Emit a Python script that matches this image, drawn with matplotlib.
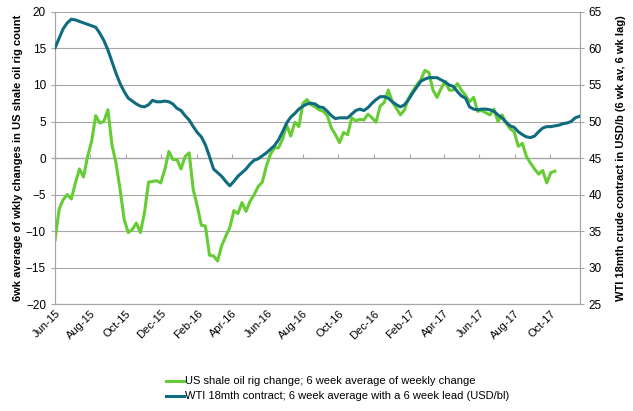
import matplotlib
matplotlib.use("Agg")
import matplotlib.pyplot as plt
import matplotlib.dates as mdates
from matplotlib.ticker import NullFormatter
import pandas as pd

plt.rcParams['font.family'] = ['Liberation Sans', 'DejaVu Sans']

GREEN = '#66CC33'
TEAL = '#0F6B7F'
GRID = '#A6A6A6'

# 6wk average of weekly change in US shale oil rig count (left axis)
rig_change = [
    -11.2, -7.0, -5.7, -5.0, -5.6, -3.4, -1.5, -2.6, 0.2, 2.3, 5.8, 4.8, 5.0, 6.6, 1.8, -0.7,
    -4.3, -8.4, -10.2, -9.8, -8.9, -10.2, -7.5, -3.3, -3.2, -3.1, -3.4, -1.6, 0.9, -0.2, -0.2, -1.5,
    0.2, 0.7, -4.3, -6.6, -9.2, -9.3, -13.3, -13.4, -14.1, -12.0, -10.7, -9.5, -7.2, -7.6, -6.1, -7.3,
    -5.9, -5.0, -3.9, -3.3, -1.1, 0.5, 1.4, 1.4, 2.6, 4.5, 3.0, 4.9, 4.3, 7.5, 8.0, 7.3,
    7.0, 6.6, 6.4, 5.8, 4.1, 3.2, 2.1, 3.5, 3.2, 5.5, 5.1, 5.3, 5.2, 6.0, 5.5, 4.9,
    7.1, 7.6, 9.3, 7.7, 6.8, 5.9, 6.6, 8.2, 9.1, 10.0, 10.7, 12.0, 11.7, 9.3, 8.3, 9.5,
    10.5, 9.3, 9.3, 10.2, 9.3, 8.6, 7.7, 8.3, 6.4, 6.5, 6.2, 5.9, 6.7, 5.0, 5.9, 4.8,
    4.0, 3.6, 1.6, 2.0, 0.2, -0.7, -1.5, -2.2, -1.7, -3.4, -2.0, -1.8,
]

# WTI 18mth contract, 6wk average with 6wk lead, USD/bl (right axis)
wti_18m = [
    60.1, 61.4, 62.7, 63.5, 64.0, 63.9, 63.7, 63.5, 63.3, 63.1, 62.9, 62.1, 61.1, 59.8, 58.2, 56.6,
    55.2, 54.1, 53.2, 52.8, 52.4, 52.1, 52.0, 52.3, 52.9, 52.7, 52.7, 52.8, 52.7, 52.4, 51.8, 51.5,
    50.8, 50.2, 49.3, 48.5, 47.9, 46.8, 45.2, 43.5, 43.0, 42.5, 41.8, 41.2, 41.8, 42.5, 43.0, 43.5,
    44.2, 44.7, 44.9, 45.3, 45.7, 46.2, 46.7, 47.5, 48.6, 49.8, 50.6, 51.1, 51.7, 52.1, 52.4, 52.5,
    52.4, 52.0, 51.9, 51.4, 50.8, 50.4, 50.5, 50.5, 50.5, 51.0, 51.5, 51.7, 51.5, 51.9, 52.5, 53.0,
    53.4, 53.4, 53.2, 52.7, 52.3, 52.0, 52.3, 53.0, 53.9, 54.7, 55.5, 55.8, 56.0, 56.0, 56.0, 55.7,
    55.4, 55.0, 54.8, 54.1, 53.5, 53.2, 52.0, 51.7, 51.6, 51.7, 51.7, 51.6, 51.4, 50.9, 50.5, 49.9,
    49.4, 49.2, 48.6, 48.2, 47.9, 47.8, 48.0, 48.6, 49.1, 49.3, 49.3, 49.4, 49.5, 49.7, 49.8, 50.0,
    50.5, 50.7,
]

weeks = pd.date_range('2015-06-01', periods=len(wti_18m), freq='7D')
tick_months = pd.date_range('2015-06-01', '2017-10-01', freq='2MS')

fig = plt.figure(figsize=(6.33, 4.11), dpi=100)
ax = fig.add_axes([0.087, 0.26, 0.829, 0.711])
ax2 = ax.twinx()

l1, = ax.plot(weeks[:len(rig_change)], rig_change, color=GREEN, lw=2.2, zorder=3,
              label='US shale oil rig change; 6 week average of weekly change')
l2, = ax2.plot(weeks, wti_18m, color=TEAL, lw=2.2, zorder=3,
               label='WTI 18mth contract; 6 week average with a 6 week lead (USD/bl)')

ax.set_ylim(-20, 20)
ax.set_yticks(range(-20, 21, 5))
ax2.set_ylim(25, 65)
ax2.set_yticks(range(25, 66, 5))
ax.set_xlim(pd.Timestamp('2015-06-01'), pd.Timestamp('2017-11-21'))

ax.yaxis.grid(True, color=GRID, lw=0.8)
ax.set_axisbelow(True)

ax.set_xticks(tick_months)
ax.xaxis.set_major_formatter(mdates.DateFormatter('%b-%y'))
ax.tick_params(axis='x', length=0, labelsize=8, pad=3)
for lab in ax.get_xticklabels():
    lab.set_rotation(45)
    lab.set_ha('right')
    lab.set_rotation_mode('anchor')

# tick marks on the zero line
sec = ax.secondary_xaxis(0.5)
sec.set_xticks(tick_months)
sec.xaxis.set_major_formatter(NullFormatter())
sec.tick_params(axis='x', length=3, color=GRID, direction='out')
sec.spines['bottom'].set_color(GRID)

for a in (ax, ax2):
    a.spines['top'].set_visible(False)
    a.spines['left'].set_color(GRID)
    a.spines['right'].set_color(GRID)
    a.spines['bottom'].set_color(GRID)
ax.tick_params(axis='y', length=3, color=GRID, labelsize=8.5)
ax2.tick_params(axis='y', length=3, color=GRID, labelsize=8.5)

ax.set_ylabel('6wk average of wkly changes in US shale oil rig count', fontsize=8, fontweight='bold', labelpad=2)
ax2.set_ylabel('WTI 18mth crude contract in USD/b (6 wk av, 6 wk lag)', fontsize=8, fontweight='bold', labelpad=10)

fig.legend(handles=[l1, l2], loc='upper left', bbox_to_anchor=(0.255, 0.095), frameon=False,
           fontsize=8, handlelength=1.6, handletextpad=0.1, labelspacing=0.45, borderaxespad=0)

fig.savefig('out.png', dpi=100)
